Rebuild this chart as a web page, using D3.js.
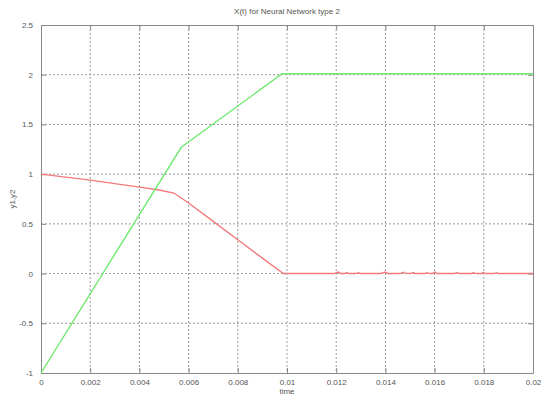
<!DOCTYPE html>
<html>
<head>
<meta charset="utf-8">
<script src="https://cdn.jsdelivr.net/npm/d3@7"></script>
<style>
html,body{margin:0;padding:0;background:#fff;}
text{font-family:"Liberation Sans",Arial,sans-serif;fill:#555;}
</style>
</head>
<body>
<svg id="chart" width="542" height="396"></svg>
<script>
const titleText = "X(t) for Neural Network type 2";
const xLabel = "time";
const yLabel = "y1,y2";
const xTicks = [0,0.002,0.004,0.006,0.008,0.01,0.012,0.014,0.016,0.018,0.02];
const xTickLabels = ["0","0.002","0.004","0.006","0.008","0.01","0.012","0.014","0.016","0.018","0.02"];
const yTicks = [-1,-0.5,0,0.5,1,1.5,2,2.5];
const yTickLabels = ["-1","-0.5","0","0.5","1","1.5","2","2.5"];

const greenT = [0, 0.0057, 0.0098, 0.02];
const greenV = [-1, 1.27, 2.01, 2.01];

const redT = [0, 0.001, 0.002, 0.003, 0.004, 0.0048, 0.0054, 0.006, 0.007, 0.008, 0.009, 0.00985,
  0.0119, 0.01209, 0.0122, 0.01235, 0.01243, 0.0125, 0.0128, 0.0129, 0.013, 0.0138, 0.01398, 0.0141,
  0.0146, 0.01473, 0.0148, 0.0150, 0.01514, 0.0152, 0.0156, 0.01568, 0.0158, 0.0159, 0.01602, 0.0161,
  0.0168, 0.0169, 0.0170, 0.0175, 0.01757, 0.0177, 0.0179, 0.01798, 0.0181, 0.0184, 0.01852, 0.0186, 0.02];
const redV = [1.0, 0.97, 0.94, 0.905, 0.87, 0.84, 0.81, 0.71, 0.525, 0.34, 0.155, 0,
  0, 0.015, 0, 0, 0.01, 0, 0, 0.008, 0, 0, 0.015, 0,
  0, 0.012, 0.004, 0, 0.01, 0, 0, 0.008, 0, 0, 0.014, 0,
  0, 0.01, 0, 0, 0.008, 0, 0, 0.01, 0, 0, 0.008, 0, 0];

const svg = d3.select("#chart");
const L = 41, R = 533, T = 25, B = 373;
const x = d3.scaleLinear().domain([0, 0.02]).range([L, R]);
const y = d3.scaleLinear().domain([-1, 2.5]).range([B, T]);

// grid
const g = svg.append("g");
g.selectAll(".vg").data(xTicks.slice(1, -1)).enter().append("line")
  .attr("x1", d => x(d)).attr("x2", d => x(d)).attr("y1", T).attr("y2", B)
  .attr("stroke", "#9a9a9a").attr("stroke-width", 1).attr("stroke-dasharray", "2,2");
g.selectAll(".hg").data(yTicks.slice(1, -1)).enter().append("line")
  .attr("y1", d => y(d)).attr("y2", d => y(d)).attr("x1", L).attr("x2", R)
  .attr("stroke", "#9a9a9a").attr("stroke-width", 1).attr("stroke-dasharray", "2,2");

// axes with inward ticks
const axB = d3.axisBottom(x).tickValues(xTicks).tickFormat((d, i) => xTickLabels[i]).tickSizeInner(-5).tickSizeOuter(0).tickPadding(6);
const axT = d3.axisTop(x).tickValues(xTicks).tickFormat("").tickSizeInner(-5).tickSizeOuter(0);
const axL = d3.axisLeft(y).tickValues(yTicks).tickFormat((d, i) => yTickLabels[i]).tickSizeInner(-5).tickSizeOuter(0).tickPadding(8);
const axR = d3.axisRight(y).tickValues(yTicks).tickFormat("").tickSizeInner(-5).tickSizeOuter(0);
function style(sel) {
  sel.selectAll("path").attr("stroke", "#888");
  sel.selectAll("line").attr("stroke", "#888");
  sel.selectAll("text").attr("font-size", "8px").attr("fill", "#555");
}
svg.append("g").attr("transform", `translate(0,${B})`).call(axB).call(style);
svg.append("g").attr("transform", `translate(0,${T})`).call(axT).call(style);
svg.append("g").attr("transform", `translate(${L},0)`).call(axL).call(style);
svg.append("g").attr("transform", `translate(${R},0)`).call(axR).call(style);

// lines
const line = d3.line().x(d => x(d[0])).y(d => y(d[1]));
svg.append("path").datum(redT.map((t, i) => [t, redV[i]]))
  .attr("d", line).attr("fill", "none").attr("stroke", "#f47a7a").attr("stroke-width", 1.4);
svg.append("path").datum(greenT.map((t, i) => [t, greenV[i]]))
  .attr("d", line).attr("fill", "none").attr("stroke", "#6fe86f").attr("stroke-width", 1.4);

// labels
svg.append("text").attr("x", (L + R) / 2).attr("y", 14).attr("text-anchor", "middle")
  .attr("font-size", "8px").text(titleText);
svg.append("text").attr("x", (L + R) / 2).attr("y", 394).attr("text-anchor", "middle")
  .attr("font-size", "8px").text(xLabel);
svg.append("text").attr("transform", `translate(15,${(T + B) / 2}) rotate(-90)`).attr("text-anchor", "middle")
  .attr("font-size", "8px").text(yLabel);
</script>
</body>
</html>
